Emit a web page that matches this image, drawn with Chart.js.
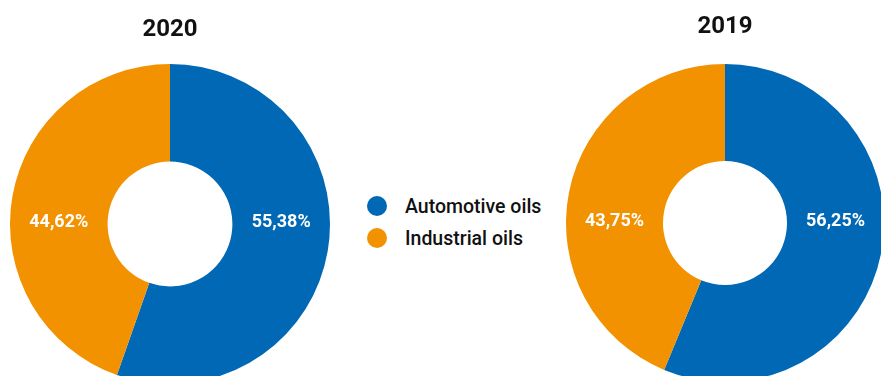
<!DOCTYPE html>
<html lang="en">
<head>
<meta charset="UTF-8">
<title>Lubricants - sales split</title>
<script src="https://cdn.jsdelivr.net/npm/chart.js"></script>
<style>
  * {
    box-sizing: border-box;
    font-family: "Roboto", sans-serif;
  }
  html, body {
    margin: 0;
    padding: 0;
    width: 881px;
    height: 376px;
    overflow: hidden;
    background: #fff;
  }
  .donut {
    position: absolute;
    width: 320px;
  }
  #donut2020 { left: 9.5px; top: 0; height: 384px; }
  #donut2019 { left: 565px; top: 0; height: 382px; }

  .legende {
    position: absolute;
    left: 367px;
    top: 190px;
  }
  .legende div {
    display: flex;
    align-items: center;
    height: 32px;
    font-size: 19.5px;
    font-weight: 500;
    color: #111;
  }
  .legende span {
    display: inline-block;
    width: 20px;
    height: 20px;
    border-radius: 50%;
    margin-right: 18px;
  }
</style>
</head>
<body>
<div class="donut" id="donut2020"><canvas id="graph2020"></canvas></div>
<div class="donut" id="donut2019"><canvas id="graph2019"></canvas></div>
<div class="legende" id="legende"></div>

<script>
// categories et couleurs
const categories = ['Automotive oils', 'Industrial oils'];
const couleurs = ['#0068B4', '#F39200'];

// parts en %
const annees = ['2020', '2019'];
const valeurs2020 = [55.38, 44.62];
const valeurs2019 = [56.25, 43.75];

// pourcentages écrits au milieu de l'anneau, à gauche ou à droite du centre
const etiquettes = {
  id: 'etiquettes',
  afterDatasetsDraw(chart) {
    const ctx = chart.ctx;
    const meta = chart.getDatasetMeta(0);
    ctx.save();
    ctx.fillStyle = '#fff';
    ctx.font = 'bold 18px Roboto';
    ctx.textAlign = 'center';
    ctx.textBaseline = 'middle';
    meta.data.forEach((arc, i) => {
      const milieu = (arc.startAngle + arc.endAngle) / 2;
      const cote = Math.cos(milieu) >= 0 ? 1 : -1;
      const r = (arc.innerRadius + arc.outerRadius) / 2;
      const v = chart.data.datasets[0].data[i];
      ctx.fillText(v.toFixed(2).replace('.', ',') + '%', arc.x + cote * r, arc.y - 2);
    });
    ctx.restore();
  }
};

function creerDonut(idCanvas, valeurs, titre, padHaut) {
  const ctx = document.getElementById(idCanvas).getContext('2d');
  return new Chart(ctx, {
    type: 'doughnut',
    data: {
      labels: categories,
      datasets: [{
        data: valeurs,
        backgroundColor: couleurs,
        borderWidth: 0
      }]
    },
    options: {
      responsive: true,
      maintainAspectRatio: false,
      animation: false,
      cutout: '39%',
      layout: { padding: 0 },
      plugins: {
        legend: { display: false },
        tooltip: { enabled: false },
        title: {
          display: true,
          text: titre,
          color: '#111',
          font: { family: 'Roboto', size: 24, weight: 'bold', lineHeight: 1.2 },
          padding: { top: padHaut, bottom: 64 - padHaut - 28.8 }
        }
      }
    },
    plugins: [etiquettes]
  });
}

creerDonut('graph2020', valeurs2020, annees[0], 15.5);
creerDonut('graph2019', valeurs2019, annees[1], 12.5);

// légende commune
const legende = document.getElementById('legende');
categories.forEach((c, i) => {
  const ligne = document.createElement('div');
  ligne.innerHTML = '<span style="background:' + couleurs[i] + '"></span>' + c;
  legende.appendChild(ligne);
});
</script>
</body>
</html>
